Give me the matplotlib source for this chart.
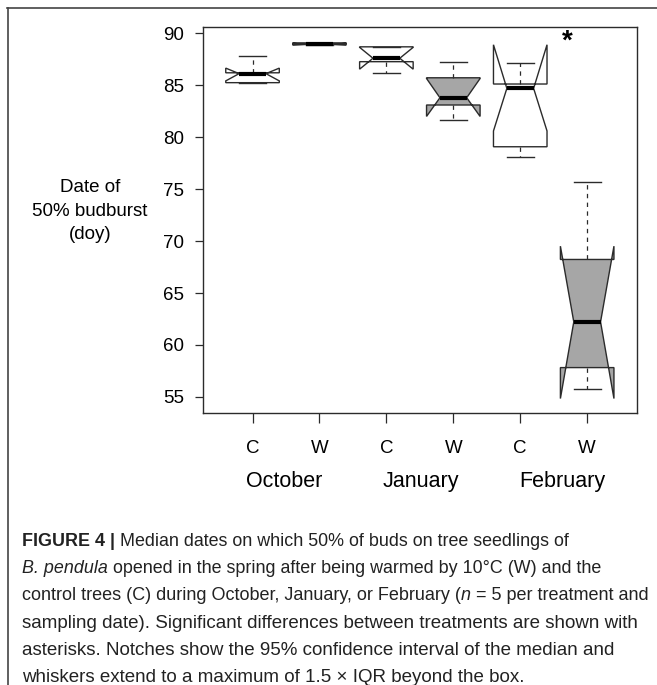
import matplotlib
matplotlib.use("Agg")
import matplotlib.pyplot as plt
from matplotlib import font_manager

names = {f.name for f in font_manager.fontManager.ttflist}
BASE = "Liberation Sans" if "Liberation Sans" in names else "DejaVu Sans"
plt.rcParams['font.family'] = [BASE, 'DejaVu Sans']

# ---- data ----
treatments = ["C", "W", "C", "W", "C", "W"]
months = ["October", "January", "February"]
month_x = [1.47, 3.51, 5.63]
whislo = [85.25, 88.90, 86.15, 81.65, 78.10, 55.80]
q1     = [85.25, 88.92, 87.27, 83.10, 79.08, 57.82]
med    = [86.12, 88.95, 87.60, 83.80, 84.70, 62.22]
q3     = [86.20, 89.08, 88.70, 85.72, 85.12, 68.23]
whishi = [87.80, 89.10, 88.70, 87.21, 87.11, 75.70]
cilo   = [85.42, 88.88, 86.55, 82.00, 80.60, 54.84]
cihi   = [86.65, 89.03, 88.65, 85.65, 88.90, 69.51]
fills  = ["white", "#a6a6a6", "white", "#a6a6a6", "white", "#a6a6a6"]
yticks = [55, 60, 65, 70, 75, 80, 85, 90]
signif_pos = (5.70, 89.2)

W, H = 657, 685
fig = plt.figure(figsize=(W / 100, H / 100), dpi=100)
ax = fig.add_axes([203 / W, 1 - 413.3 / H, (636.7 - 203) / W, (413.3 - 27.3) / H])

stats = []
for i in range(len(treatments)):
    stats.append(dict(med=med[i], q1=q1[i], q3=q3[i], whislo=whislo[i],
                      whishi=whishi[i], cilo=cilo[i], cihi=cihi[i], fliers=[]))
pos = list(range(1, len(treatments) + 1))
ec = "#2b2b2b"
bp = ax.bxp(stats, positions=pos, widths=0.8, shownotches=True, patch_artist=True,
            boxprops=dict(edgecolor=ec, linewidth=1.0),
            whiskerprops=dict(color=ec, linewidth=0.9, linestyle=(0, (3.5, 3.5))),
            capprops=dict(color=ec, linewidth=1.0),
            medianprops=dict(color="black", linewidth=3.0, solid_capstyle="butt"),
            capwidths=0.4, showfliers=False)
for patch, fc in zip(bp["boxes"], fills):
    patch.set_facecolor(fc)

ax.set_xlim(0.26, 6.74)
ax.set_ylim(53.42, 90.58)
ax.set_yticks(yticks)
ax.set_yticklabels([str(v) for v in yticks], fontsize=13.5)
ax.set_xticks(pos)
ax.set_xticklabels(treatments, fontsize=13.5)
ax.tick_params(axis="y", length=6, width=0.9, color=ec, pad=7.5)
ax.tick_params(axis="x", length=7.2, width=0.9, color=ec, pad=12)
for s in ax.spines.values():
    s.set_color(ec)
    s.set_linewidth(1.0)

# month labels (baseline at ~487 px)
base_y = 1 - (487.3 - 27.3) / (413.3 - 27.3)
for mx, m in zip(month_x, months):
    ax.text(mx, base_y, m, transform=ax.get_xaxis_transform(), ha="center",
            va="baseline", fontsize=15.5)

# y label
fig.text(90 / W, 1 - 211 / H, "Date of\n50% budburst\n(doy)", ha="center",
         va="center", fontsize=13.5, linespacing=1.47)

# significance
ax.text(signif_pos[0], signif_pos[1], "*", ha="center", va="center",
        fontsize=20, fontweight="bold")

# figure frame lines (top and left)
fig.add_artist(plt.Line2D([7 / W, 1], [1 - 8 / H] * 2, transform=fig.transFigure,
                          color="#444444", lw=1.2))
fig.add_artist(plt.Line2D([8 / W] * 2, [1 - 8 / H, 0], transform=fig.transFigure,
                          color="#444444", lw=1.2))

# caption with mixed styles
cap_lines = [
    [("FIGURE 4 |", "bold", "normal"), (" Median dates on which 50% of buds on tree seedlings of", "normal", "normal")],
    [("B. pendula", "normal", "italic"), (" opened in the spring after being warmed by 10\u00b0C (W) and the", "normal", "normal")],
    [("control trees (C) during October, January, or February (", "normal", "normal"), ("n", "normal", "italic"),
     (" = 5 per treatment and", "normal", "normal")],
    [("sampling date). Significant differences between treatments are shown with", "normal", "normal")],
    [("asterisks. Notches show the 95% confidence interval of the median and", "normal", "normal")],
    [("whiskers extend to a maximum of 1.5 \u00d7 IQR beyond the box.", "normal", "normal")],
]
cap_right = [565, 583, 650, 637, 615, 525]
cap_x0 = 22
cap_y0 = 541
cap_dy = 27.4
cap_fs = 13.5
cap_min = 12.9
renderer = fig.canvas.get_renderer()
for li, parts in enumerate(cap_lines):
    y = 1 - (cap_y0 + li * cap_dy) / H
    width = 0
    for txt, wt, st in parts:
        t = fig.text(0, 0, txt, fontsize=cap_fs, fontweight=wt, fontstyle=st)
        width += t.get_window_extent(renderer=renderer).width
        t.remove()
    fit = cap_fs * (cap_right[li] - cap_x0) / width
    limit = cap_fs * (648 - cap_x0) / width
    fs = min(cap_fs, max(cap_min, fit), limit)
    x = cap_x0
    for txt, wt, st in parts:
        t = fig.text(x / W, y, txt, fontsize=fs, fontweight=wt, fontstyle=st,
                     ha="left", va="center", color="#222222")
        x += t.get_window_extent(renderer=renderer).width

fig.savefig("out.png", dpi=100)
